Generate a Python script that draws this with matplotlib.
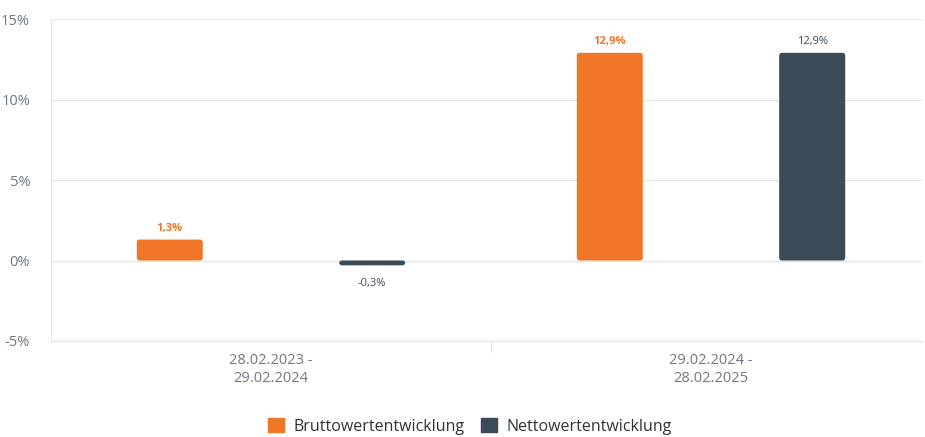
import numpy as np
import matplotlib.pyplot as plt
from matplotlib.patches import Patch, FancyBboxPatch

# Daten
zeitraeume = ["28.02.2023 -\n29.02.2024", "29.02.2024 -\n28.02.2025"]
brutto = [1.3, 12.9]
netto = [-0.3, 12.9]
brutto_labels = ["1,3%", "12,9%"]
netto_labels = ["-0,3%", "12,9%"]
y_ticks = [-5, 0, 5, 10, 15]
y_tick_labels = ["-5%", "0%", "5%", "10%", "15%"]

orange = "#F07628"
dunkel = "#3A4A57"
grau = "#6E7A84"

plt.rcParams['font.family'] = ['Open Sans', 'DejaVu Sans']

fig = plt.figure(figsize=(9.25, 4.37), dpi=100)
ax = fig.add_axes([51 / 925, 1 - 341 / 437, 871 / 925, 322 / 437])

x = np.arange(len(zeitraeume))
breite = 0.15
versatz = 0.23

bars = list(ax.bar(x - versatz, brutto, breite, color=orange, zorder=3))
bars += list(ax.bar(x + versatz, netto, breite, color=dunkel, zorder=3))

# abgerundete Ecken
for b in bars:
    b.set_visible(False)
    xb, yb = b.get_xy()
    w, h = b.get_width(), b.get_height()
    if h < 0:
        yb, h = yb + h, -h
    p = FancyBboxPatch((xb, yb), w, h, boxstyle="round,pad=0,rounding_size=0.006",
                       mutation_aspect=27.5, facecolor=b.get_facecolor(), edgecolor="none", zorder=3)
    ax.add_patch(p)

for i in range(len(x)):
    yb = brutto[i]
    ax.annotate(brutto_labels[i], (x[i] - versatz, yb), xytext=(0, 6 if yb >= 0 else -14),
                textcoords="offset points", ha="center", fontsize=8, color=orange, fontweight="bold")
    yn = netto[i]
    ax.annotate(netto_labels[i], (x[i] + versatz, yn), xytext=(0, 6 if yn >= 0 else -15),
                textcoords="offset points", ha="center", fontsize=8, color=dunkel)

ax.set_ylim(-5, 15)
ax.set_xlim(-0.5, -0.5 + 871 / 440)
ax.set_yticks(y_ticks)
ax.set_yticklabels(y_tick_labels, fontsize=10.5)
ax.set_xticks(x)
ax.set_xticklabels(zeitraeume, fontsize=10.5)
ax.tick_params(axis="both", length=0, labelcolor=grau)
ax.tick_params(axis="x", pad=9)
ax.tick_params(axis="y", pad=15)
ax.set_xticks([0.5], minor=True)
ax.tick_params(axis="x", which="minor", length=8, color="#E6E6E6", width=1)
ax.grid(axis="y", color="#E6E6E6", linewidth=1, zorder=0)

for s in ["top", "right"]:
    ax.spines[s].set_visible(False)
ax.spines["left"].set_color("#E6E6E6")
ax.spines["bottom"].set_color("#E6E6E6")

handles = [Patch(color=orange, label="Bruttowertentwicklung"),
           Patch(color=dunkel, label="Nettowertentwicklung")]
fig.legend(handles=handles, loc="center", bbox_to_anchor=(0.508, 0.024), ncol=2, frameon=False,
           fontsize=11.5, labelcolor="#333333", handlelength=1.0, handleheight=1.0,
           handletextpad=0.6, columnspacing=1.0)

fig.savefig("out.png", dpi=100)
